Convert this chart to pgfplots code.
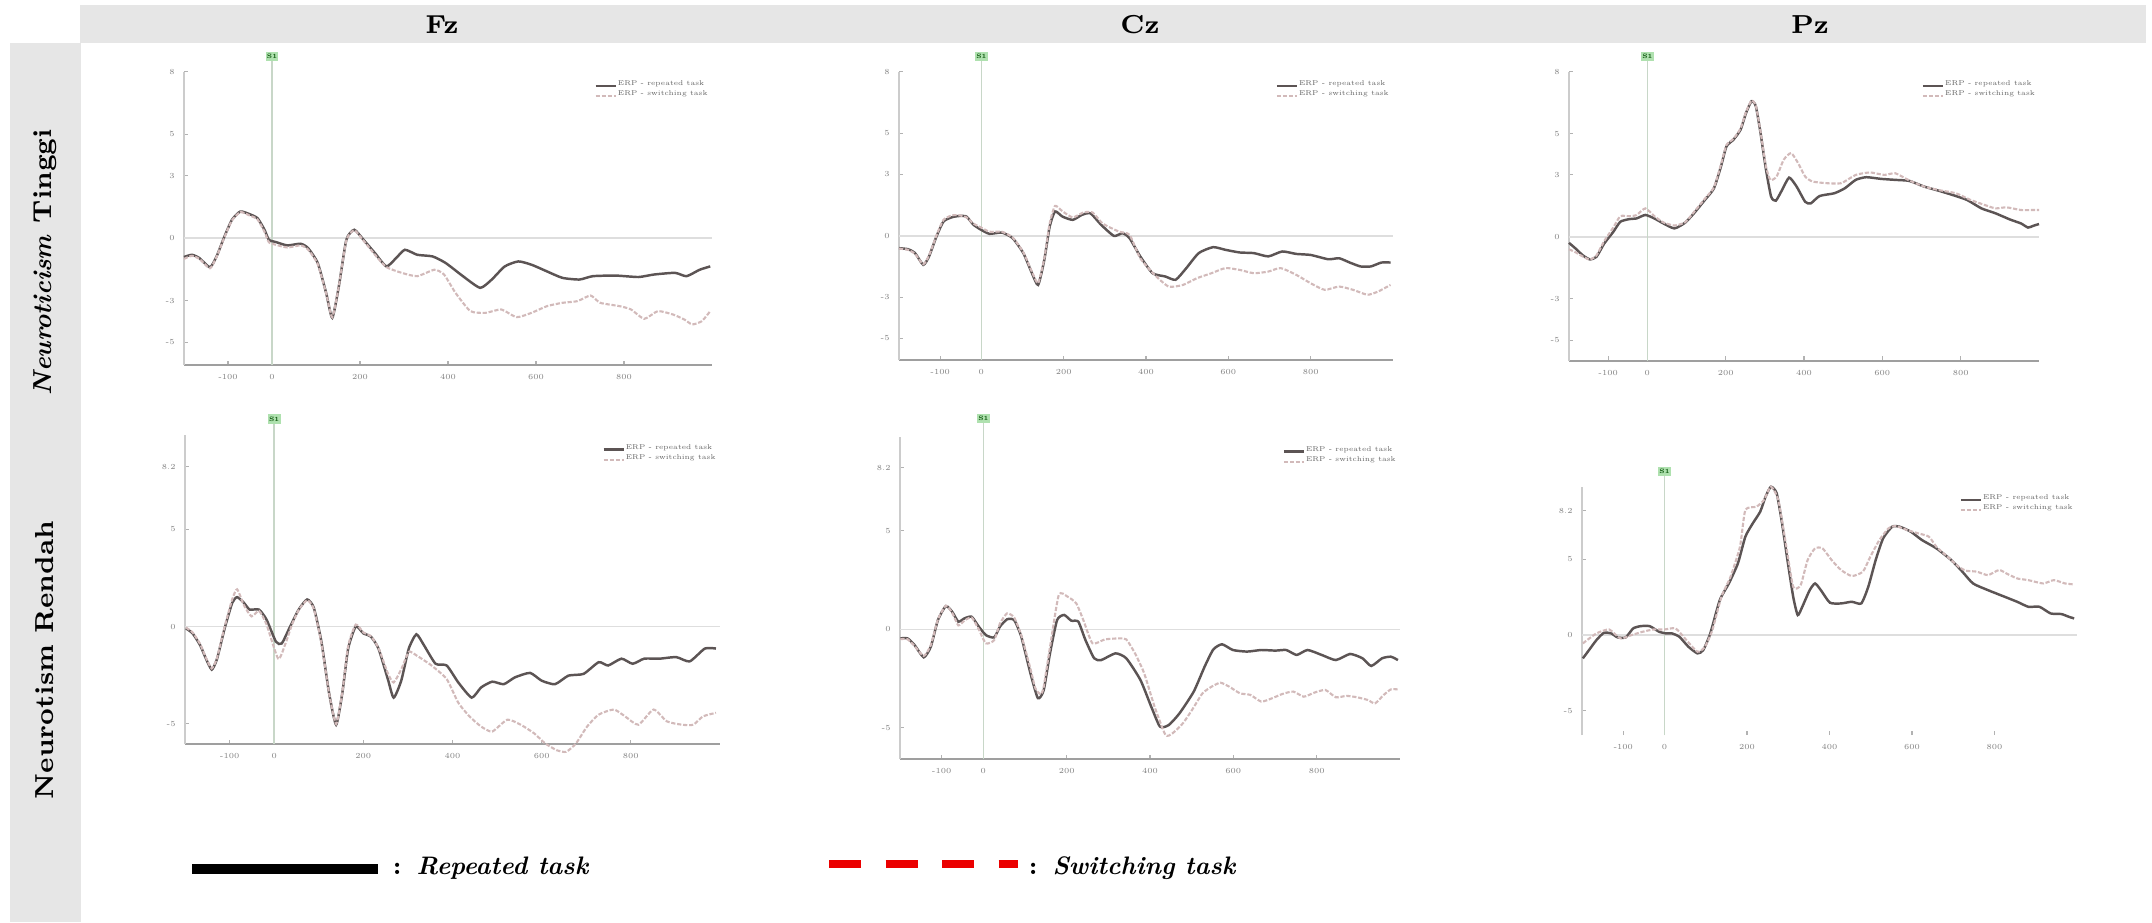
\documentclass[border=0pt]{standalone}
\usepackage{pgfplots}
\pgfplotsset{compat=1.18}
\definecolor{band}{RGB}{230,230,230}
\definecolor{repc}{RGB}{92,84,84}
\definecolor{swic}{RGB}{210,186,186}
\definecolor{zeroc}{RGB}{222,222,222}
\definecolor{vertc}{RGB}{200,215,200}
\definecolor{legred}{RGB}{235,0,0}
\definecolor{sgreen}{RGB}{175,225,175}
\tikzset{
  sbox/.style={fill=sgreen, inner sep=0.4pt, minimum size=0.95mm, font=\fontsize{1.8}{2}\selectfont\bfseries, text=green!30!black},
  rep/.style={color=repc, line width=0.7pt, smooth, tension=0.35},
  swi/.style={color=swic, line width=0.6pt, dash pattern=on 1.2pt off 0.5pt, smooth, tension=0.35},
}
\pgfplotsset{
  erp/.style={
    scale only axis, clip=false,
    axis lines*=left,
    xmin=-200, xmax=1000,
    xtick={-100,0,200,400,600,800},
    /pgf/number format/assume math mode=true,
    tick label style={font=\fontsize{2.2}{2.4}\selectfont, text=gray},
    major tick length=1.2pt,
    tick style={gray!60, line width=0.3pt},
    x axis line style={gray!75, line width=0.5pt},
    y axis line style={gray!40, line width=0.4pt},
    xticklabel style={yshift=0.3mm},
    yticklabel style={xshift=0.3mm},
    legend style={draw=none, fill=none, font=\fontsize{2}{2.2}\selectfont,
      at={(0.995,0.975)}, anchor=north east, inner sep=0pt, row sep=-0.6pt,
      nodes={inner sep=0.3pt, text=gray!80!black}},
    legend cell align=left,
    legend image code/.code={\draw[#1] (0mm,0mm) -- (2mm,0mm);},
  },
}
\begin{document}
\begin{tikzpicture}
\begin{scope}[x=0.1mm,y=-0.1mm]
\path[use as bounding box] (0,0) rectangle (2152,922);
\fill[band] (80,5) rectangle (2146,43);
\fill[band] (10,43) rectangle (81,922);
\node[font=\fontsize{7.4}{9}\selectfont\bfseries] at (442,25) {Fz};
\node[font=\fontsize{7.4}{9}\selectfont\bfseries] at (1140,25) {Cz};
\node[font=\fontsize{7.4}{9}\selectfont\bfseries] at (1810,25) {Pz};
\node[rotate=90, font=\fontsize{7.4}{9}\selectfont\bfseries] at (45,262) {\textit{Neuroticism} Tinggi};
\node[rotate=90, font=\fontsize{7.4}{9}\selectfont\bfseries] at (45,660) {Neurotism Rendah};
\draw[black, line width=1.0mm] (192,869) -- (378,869);
\node[anchor=west, font=\fontsize{7.2}{9}\selectfont\bfseries, inner sep=0pt] at (392,868) {: \textit{Repeated task}};
\draw[legred, line width=0.8mm, dash pattern=on 3.2mm off 2.45mm] (829,864) -- (1018,864);
\node[anchor=west, font=\fontsize{7.2}{9}\selectfont\bfseries, inner sep=0pt] at (1028,868) {: \textit{Switching task}};
\end{scope}

%%%%% Fz top
\begin{axis}[erp, at={(18.4mm,-36.5mm)}, anchor=south west, width=52.8mm, height=29.33mm,
  ymin=-6.1, ymax=8, ytick={-5,-3,0,3,5,8}]
\draw[zeroc, line width=0.4pt] (axis cs:-200,0) -- (axis cs:1000,0);
\draw[vertc, line width=0.4pt] (axis cs:0,-6.1) -- (axis cs:0,8) -- ++(0pt,1.5mm) node[sbox]{S1};
\addplot[rep] coordinates {(-200,-0.91) (-182,-0.8) (-165,-0.96) (-141,-1.4) (-126,-0.88) (-108,0.08) (-91,0.88) (-72,1.28) (-52,1.16) (-33,0.96) (-17,0.4) (-7,-0.08) (9,-0.19) (35,-0.35) (65,-0.27) (82,-0.48) (104,-1.2) (123,-2.63) (137,-3.83) (152,-2.31) (169,-0.08) (187,0.4) (208,-0.08) (234,-0.72) (260,-1.36) (282,-0.96) (302,-0.56) (330,-0.8) (365,-0.88) (395,-1.2) (434,-1.83) (473,-2.39) (499,-2.0) (529,-1.36) (560,-1.12) (590,-1.28) (625,-1.6) (660,-1.91) (699,-1.99) (729,-1.83) (781,-1.8) (833,-1.87) (868,-1.75) (916,-1.67) (942,-1.83) (972,-1.52) (996,-1.36)};
\addlegendentry{ERP - repeated task}
\addplot[swi] coordinates {(-200,-1.0) (-182,-0.85) (-165,-1.0) (-141,-1.45) (-126,-0.9) (-108,0.05) (-91,0.85) (-72,1.25) (-52,1.1) (-33,0.9) (-17,0.3) (-7,-0.2) (9,-0.32) (35,-0.45) (65,-0.35) (82,-0.55) (104,-1.25) (123,-2.65) (137,-3.8) (152,-2.3) (169,-0.1) (187,0.38) (208,-0.12) (234,-0.8) (260,-1.39) (295,-1.67) (330,-1.83) (369,-1.52) (391,-1.75) (417,-2.63) (451,-3.51) (486,-3.59) (521,-3.43) (556,-3.8) (590,-3.59) (625,-3.27) (660,-3.11) (694,-3.03) (724,-2.76) (746,-3.11) (790,-3.27) (816,-3.43) (846,-3.88) (877,-3.51) (911,-3.67) (937,-3.91) (955,-4.15) (977,-3.99) (996,-3.51)};
\addlegendentry{ERP - switching task}
\end{axis}

%%%%% Cz top
\begin{axis}[erp, at={(89.9mm,-36.0mm)}, anchor=south west, width=49.4mm, height=28.83mm,
  ymin=-6.05, ymax=8, ytick={-5,-3,0,3,5,8}]
\draw[zeroc, line width=0.4pt] (axis cs:-200,0) -- (axis cs:1000,0);
\draw[vertc, line width=0.4pt] (axis cs:0,-6.05) -- (axis cs:0,8) -- ++(0pt,1.5mm) node[sbox]{S1};
\addplot[rep] coordinates {(-200,-0.6) (-178,-0.65) (-161,-0.84) (-141,-1.41) (-127,-1.0) (-109,-0.03) (-92,0.70) (-71,0.91) (-53,0.97) (-36,0.94) (-19,0.54) (0,0.29) (20,0.10) (50,0.16) (76,-0.11) (102,-0.84) (123,-1.82) (138,-2.39) (153,-1.17) (166,0.45) (179,1.19) (197,0.94) (222,0.78) (244,1.02) (265,1.10) (291,0.54) (322,0) (343,0.13) (360,-0.11) (386,-1.0) (416,-1.82) (447,-1.98) (472,-2.14) (498,-1.57) (528,-0.84) (563,-0.55) (593,-0.68) (628,-0.81) (662,-0.84) (697,-1.0) (731,-0.76) (765,-0.88) (800,-0.93) (843,-1.14) (869,-1.09) (895,-1.30) (921,-1.49) (946,-1.49) (972,-1.30) (994,-1.30)};
\addlegendentry{ERP - repeated task}
\addplot[swi] coordinates {(-200,-0.62) (-178,-0.68) (-161,-0.88) (-141,-1.38) (-127,-0.95) (-109,0.02) (-92,0.78) (-71,1.0) (-53,1.0) (-36,0.9) (-19,0.6) (0,0.4) (20,0.2) (50,0.2) (76,-0.08) (102,-0.8) (123,-1.75) (138,-2.3) (153,-1.1) (166,0.6) (179,1.46) (197,1.2) (222,0.9) (248,1.14) (270,1.14) (295,0.6) (334,0.21) (360,0.05) (386,-1.09) (421,-1.90) (455,-2.47) (490,-2.39) (524,-2.06) (559,-1.82) (593,-1.57) (628,-1.66) (662,-1.82) (697,-1.74) (727,-1.57) (765,-1.90) (800,-2.31) (834,-2.63) (869,-2.47) (903,-2.63) (938,-2.87) (964,-2.71) (994,-2.39)};
\addlegendentry{ERP - switching task}
\end{axis}

%%%%% Pz top
\begin{axis}[erp, at={(156.9mm,-36.07mm)}, anchor=south west, width=47.0mm, height=28.9mm,
  ymin=-6.0, ymax=8, ytick={-5,-3,0,3,5,8}]
\draw[zeroc, line width=0.4pt] (axis cs:-200,0) -- (axis cs:1000,0);
\draw[vertc, line width=0.4pt] (axis cs:0,-6.0) -- (axis cs:0,8) -- ++(0pt,1.5mm) node[sbox]{S1};
\addplot[rep] coordinates {(-200,-0.29) (-183,-0.57) (-165,-0.89) (-147,-1.09) (-130,-0.97) (-110,-0.32) (-87,0.24) (-69,0.73) (-46,0.86) (-28,0.89) (-5,1.06) (18,0.89) (41,0.65) (69,0.41) (96,0.68) (119,1.14) (147,1.79) (170,2.35) (188,3.41) (202,4.38) (220,4.71) (238,5.19) (252,6.0) (266,6.57) (277,6.33) (289,5.03) (303,3.25) (316,1.95) (328,1.75) (344,2.27) (362,2.87) (381,2.44) (403,1.70) (417,1.62) (440,1.98) (477,2.11) (504,2.35) (532,2.76) (559,2.89) (596,2.81) (633,2.76) (669,2.71) (706,2.44) (743,2.24) (779,2.03) (816,1.79) (853,1.38) (889,1.14) (926,0.84) (954,0.65) (972,0.45) (986,0.54) (1000,0.62)};
\addlegendentry{ERP - repeated task}
\addplot[swi] coordinates {(-200,-0.6) (-183,-0.75) (-165,-0.95) (-147,-1.1) (-130,-0.9) (-110,-0.2) (-87,0.45) (-69,1.0) (-46,1.0) (-28,1.05) (-5,1.38) (18,1.0) (41,0.7) (69,0.55) (96,0.7) (119,1.2) (147,1.85) (170,2.4) (188,3.5) (202,4.45) (220,4.75) (238,5.25) (252,6.05) (266,6.6) (277,6.35) (289,5.1) (303,3.41) (314,2.76) (330,2.92) (348,3.73) (367,4.06) (385,3.57) (403,2.92) (422,2.68) (458,2.60) (495,2.60) (532,3.0) (569,3.12) (605,3.0) (633,3.08) (669,2.73) (706,2.44) (743,2.27) (788,2.11) (825,1.79) (862,1.54) (889,1.38) (917,1.43) (954,1.30) (981,1.30) (1000,1.30)};
\addlegendentry{ERP - switching task}
\end{axis}

%%%%% Fz bottom
\begin{axis}[erp, at={(18.5mm,-74.4mm)}, anchor=south west, width=53.5mm, height=30.9mm,
  ymin=-6.03, ymax=9.83, ytick={-5,0,5,8.2}]
\draw[zeroc, line width=0.4pt] (axis cs:-200,0) -- (axis cs:1000,0);
\draw[vertc, line width=0.4pt] (axis cs:0,-6.03) -- (axis cs:0,9.83) -- ++(0pt,1.6mm) node[sbox]{S1};
\addplot[rep] coordinates {(-198,-0.09) (-183,-0.35) (-166,-0.96) (-153,-1.65) (-140,-2.21) (-128,-1.65) (-111,-0.09) (-94,1.22) (-83,1.51) (-68,1.22) (-55,0.87) (-34,0.87) (-17,0.35) (4,-0.78) (17,-0.87) (34,-0.09) (55,0.87) (74,1.39) (89,0.96) (106,-0.78) (123,-3.39) (139,-5.04) (153,-3.39) (166,-1.13) (183,0) (200,-0.35) (217,-0.52) (234,-1.13) (255,-2.70) (268,-3.65) (285,-2.78) (302,-1.13) (319,-0.40) (336,-0.96) (362,-1.91) (387,-2.0) (413,-2.87) (443,-3.65) (464,-3.13) (489,-2.83) (515,-2.96) (540,-2.61) (574,-2.38) (600,-2.78) (630,-2.96) (660,-2.52) (694,-2.43) (728,-1.83) (749,-2.0) (779,-1.65) (804,-1.91) (830,-1.65) (864,-1.65) (902,-1.57) (932,-1.79) (966,-1.13) (991,-1.13)};
\addlegendentry{ERP - repeated task}
\addplot[swi] coordinates {(-198,-0.05) (-183,-0.3) (-166,-0.9) (-153,-1.6) (-140,-2.15) (-128,-1.6) (-111,0.0) (-94,1.4) (-83,1.91) (-68,1.1) (-51,0.52) (-34,0.8) (-17,0.1) (9,-1.65) (25,-0.9) (40,0.1) (55,0.85) (74,1.35) (89,0.9) (106,-0.85) (123,-3.4) (139,-5.0) (153,-3.35) (166,-1.0) (183,0.1) (200,-0.3) (217,-0.5) (234,-1.1) (255,-2.4) (268,-2.87) (285,-2.2) (302,-1.30) (319,-1.48) (353,-2.0) (387,-2.70) (413,-3.91) (438,-4.61) (464,-5.13) (489,-5.39) (523,-4.78) (553,-5.04) (583,-5.48) (608,-6.0) (634,-6.35) (655,-6.43) (677,-6.0) (702,-5.13) (728,-4.52) (762,-4.26) (787,-4.61) (817,-5.04) (851,-4.26) (881,-4.87) (915,-5.04) (940,-5.04) (962,-4.61) (991,-4.43)};
\addlegendentry{ERP - switching task}
\end{axis}

%%%%% Cz bottom
\begin{axis}[erp, at={(90.0mm,-75.93mm)}, anchor=south west, width=50.0mm, height=32.26mm,
  ymin=-6.6, ymax=9.78, ytick={-5,0,5,8.2}]
\draw[zeroc, line width=0.4pt] (axis cs:-200,0) -- (axis cs:1000,0);
\draw[vertc, line width=0.4pt] (axis cs:0,-6.6) -- (axis cs:0,9.78) -- ++(0pt,1.8mm) node[sbox]{S1};
\addplot[rep] coordinates {(-199,-0.46) (-182,-0.46) (-165,-0.80) (-143,-1.42) (-126,-0.88) (-109,0.47) (-90,1.18) (-75,0.90) (-60,0.39) (-45,0.56) (-28,0.64) (-11,0.14) (6,-0.29) (26,-0.41) (40,0.14) (57,0.51) (74,0.47) (91,-0.37) (113,-2.23) (131,-3.50) (145,-3.08) (160,-1.22) (177,0.47) (194,0.73) (211,0.44) (228,0.39) (245,-0.54) (266,-1.47) (283,-1.56) (317,-1.22) (343,-1.47) (377,-2.57) (403,-3.93) (424,-4.94) (445,-4.86) (471,-4.26) (505,-3.16) (531,-1.90) (552,-1.02) (573,-0.76) (599,-1.05) (633,-1.13) (667,-1.05) (701,-1.08) (727,-1.05) (752,-1.30) (778,-1.05) (812,-1.30) (846,-1.56) (880,-1.25) (910,-1.47) (931,-1.86) (957,-1.47) (978,-1.39) (995,-1.56)};
\addlegendentry{ERP - repeated task}
\addplot[swi] coordinates {(-199,-0.5) (-182,-0.5) (-165,-0.85) (-143,-1.35) (-126,-0.8) (-109,0.5) (-90,1.2) (-75,0.85) (-60,0.2) (-45,0.45) (-28,0.6) (-11,0.0) (6,-0.71) (26,-0.55) (40,0.3) (57,0.81) (74,0.6) (91,-0.3) (113,-2.0) (125,-3.0) (138,-3.3) (145,-2.9) (160,-0.9) (181,1.74) (202,1.66) (223,1.32) (240,0.47) (262,-0.71) (292,-0.51) (326,-0.46) (343,-0.51) (364,-1.22) (386,-2.23) (411,-3.93) (437,-5.36) (454,-5.28) (479,-4.77) (501,-4.09) (526,-3.25) (548,-2.91) (569,-2.71) (590,-2.91) (616,-3.25) (641,-3.33) (667,-3.67) (693,-3.50) (718,-3.28) (744,-3.16) (769,-3.42) (795,-3.21) (821,-3.08) (846,-3.45) (872,-3.38) (897,-3.45) (923,-3.59) (940,-3.76) (961,-3.33) (978,-3.05) (995,-3.05)};
\addlegendentry{ERP - switching task}
\end{axis}

%%%%% Pz bottom
\begin{axis}[erp, at={(158.2mm,-73.5mm)}, anchor=south west, width=49.5mm, height=24.83mm,
  ymin=-6.6, ymax=9.8, ytick={-5,0,5,8.2}, x axis line style={draw=none}]
\draw[zeroc, line width=0.4pt] (axis cs:-200,0) -- (axis cs:1000,0);
\draw[vertc, line width=0.4pt] (axis cs:0,-6.6) -- (axis cs:0,9.8) -- ++(0pt,1.5mm) node[sbox]{S1};
\addplot[rep] coordinates {(-198,-1.54) (-183,-0.99) (-165,-0.33) (-147,0.15) (-129,0.11) (-114,-0.15) (-94,-0.15) (-76,0.44) (-58,0.59) (-36,0.59) (-13,0.22) (4,0.11) (18,0.11) (36,-0.11) (58,-0.77) (80,-1.21) (94,-0.99) (111,0.11) (134,2.31) (156,3.41) (178,4.74) (196,6.50) (214,7.38) (232,8.15) (245,9.14) (258,9.80) (272,9.36) (285,7.38) (298,4.96) (312,2.53) (323,1.32) (334,1.87) (352,2.97) (365,3.41) (379,2.97) (401,2.14) (428,2.09) (454,2.20) (477,2.09) (494,3.19) (512,4.96) (530,6.39) (552,7.16) (570,7.16) (597,6.83) (624,6.28) (659,5.73) (695,4.96) (722,4.19) (748,3.41) (784,2.97) (820,2.58) (855,2.20) (882,1.87) (909,1.87) (936,1.43) (962,1.39) (980,1.21) (993,1.10)};
\addlegendentry{ERP - repeated task}
\addplot[swi] coordinates {(-198,-0.55) (-165,0.11) (-134,0.37) (-107,-0.22) (-80,0) (-53,0.22) (-27,0.37) (0,0.37) (27,0.44) (53,-0.33) (80,-1.10) (98,-0.77) (116,0.33) (138,2.53) (160,3.85) (183,5.84) (196,8.26) (223,8.48) (241,8.92) (258,9.80) (276,8.92) (294,6.06) (312,3.19) (330,3.30) (347,4.96) (365,5.73) (383,5.73) (405,4.96) (428,4.30) (454,3.90) (481,4.19) (499,5.18) (521,6.28) (543,7.05) (561,7.20) (588,6.94) (615,6.72) (641,6.50) (659,5.84) (686,5.18) (713,4.52) (731,4.25) (757,4.19) (784,3.96) (811,4.30) (829,4.07) (855,3.74) (882,3.63) (918,3.41) (944,3.63) (971,3.41) (993,3.35)};
\addlegendentry{ERP - switching task}
\end{axis}
\end{tikzpicture}
\end{document}
